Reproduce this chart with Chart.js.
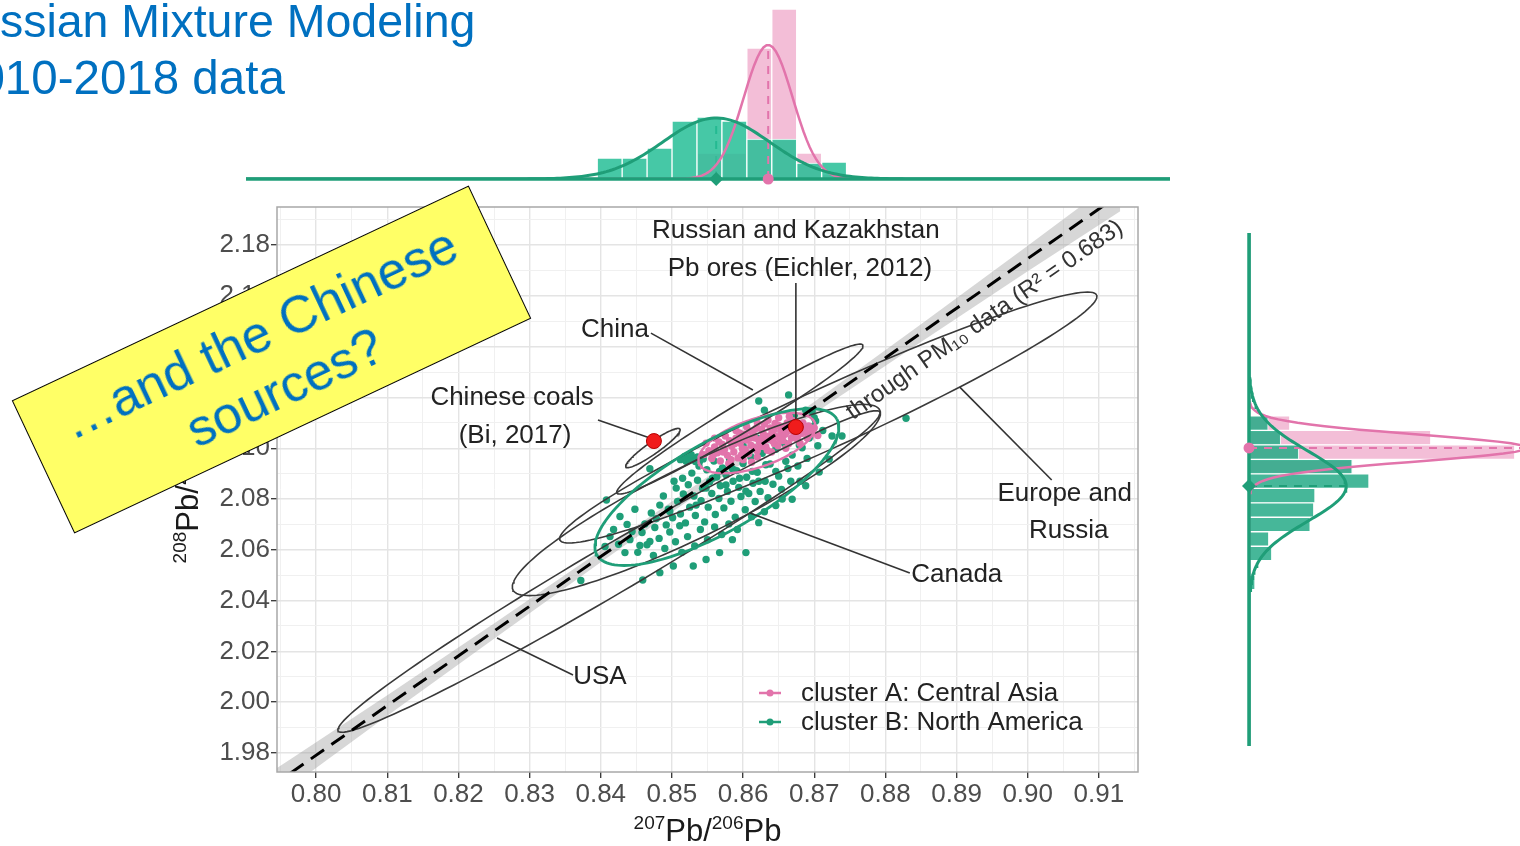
<!DOCTYPE html>
<html>
<head>
<meta charset="utf-8">
<title>Pb isotope clusters</title>
<script src="https://cdn.jsdelivr.net/npm/chart.js@4.4.1/dist/chart.umd.min.js"></script>
<style>
  html, body { margin: 0; padding: 0; background: #fff; }
  body { position: relative; width: 1520px; height: 846px; overflow: hidden; font-family: "Liberation Sans", Arial, sans-serif; }
  canvas { position: absolute; }
  #topChart { left: 0; top: 0; }
  #mainChart { left: 150px; top: 190px; }
  #sideChart { left: 1240px; top: 223px; }
  .heading { position: absolute; color: #0070c0; font-size: 46.5px; line-height: 1; white-space: nowrap; }
  #note { position: absolute; left: 19px; top: 286px; width: 505px; height: 147px; box-sizing: border-box;
    background: #ffff66; border: 1.5px solid #000; transform: rotate(-25.2deg);
    display: flex; align-items: center; justify-content: center; text-align: center;
    color: #0070c0; font-size: 52px; line-height: 60px; }
</style>
</head>
<body>
<canvas id="topChart" width="1520" height="190"></canvas>
<canvas id="mainChart" width="1000" height="656"></canvas>
<canvas id="sideChart" width="280" height="533"></canvas>
<div class="heading" style="left:-88px; top:-2px;">Gaussian Mixture Modeling</div>
<div class="heading" style="left:-48px; top:54px; font-size:47.5px;">2010-2018 data</div>
<div id="note">…and the Chinese<br>sources?</div>
<script>
Chart.defaults.font.family = '"Liberation Sans", Arial, sans-serif';
Chart.defaults.animation = false;
Chart.defaults.events = [];
Chart.defaults.plugins.legend.display = false;
Chart.defaults.plugins.tooltip.enabled = false;

const GREEN = '#1f9e78';
const PINK = '#e274ab';
const FONT = '"Liberation Sans", Arial, sans-serif';

// axes
const xMajor = [0.80, 0.81, 0.82, 0.83, 0.84, 0.85, 0.86, 0.87, 0.88, 0.89, 0.90, 0.91];
const yMajor = [1.98, 2.00, 2.02, 2.04, 2.06, 2.08, 2.10, 2.12, 2.14, 2.16, 2.18];
const xLimits = [0.7945, 0.9155];
const yLimits = [1.9725, 2.195];
// axis titles as [superscript, text] pieces
const xTitle = [['207', 'Pb/'], ['206', 'Pb']];
const yTitle = [['208', 'Pb/'], ['204', 'Pb']];

// PM10 samples, cluster B (North America)
const greenPts = [
  [0.8408,2.0796],[0.8413,2.0652],[0.8406,2.0613],[0.8427,2.0731],[0.8444,2.0672],[0.8434,2.0589],[0.8455,2.0617],[0.8469,2.0919],
  [0.8469,2.0633],[0.8478,2.0723],[0.8483,2.0776],[0.8497,2.0751],[0.8506,2.0843],[0.8515,2.0882],[0.8520,2.0949],[0.8530,2.0961],
  [0.8539,2.0949],[0.8511,2.0695],[0.8534,2.0776],[0.8548,2.0843],[0.8557,2.0882],[0.8567,2.0909],[0.8576,2.0855],[0.8585,2.0919],
  [0.8595,2.0882],[0.8604,2.0831],[0.8613,2.0909],[0.8622,2.0870],[0.8632,2.0935],[0.8646,2.0909],[0.8660,2.0949],[0.8669,2.0973],
  [0.8679,2.1013],[0.8693,2.1040],[0.8702,2.1107],[0.8697,2.1146],[0.8622,2.1186],[0.8664,2.1210],[0.8604,2.0589],[0.8585,2.0640],
  [0.8567,2.0589],[0.8548,2.0562],[0.8530,2.0536],[0.8502,2.0536],[0.8483,2.0510],[0.8459,2.0481],[0.8622,2.0707],[0.8646,2.0774],
  [0.8669,2.0799],[0.8688,2.0852],[0.8707,2.0906],[0.8721,2.0957],[0.8725,2.1048],[0.8739,2.1048],[0.8829,2.1118],[0.8372,2.0479],
  [0.8462,2.0702],[0.8471,2.0745],[0.8476,2.0688],[0.8488,2.0812],[0.8492,2.0698],[0.8495,2.0760],[0.8501,2.0726],[0.8503,2.0870],
  [0.8508,2.0790],[0.8512,2.0741],[0.8516,2.0820],[0.8519,2.0706],[0.8523,2.0856],[0.8525,2.0768],[0.8528,2.0902],[0.8531,2.0812],
  [0.8533,2.0735],[0.8536,2.0874],[0.8538,2.0930],[0.8541,2.0793],[0.8543,2.0842],[0.8546,2.0710],[0.8549,2.0915],[0.8551,2.0768],
  [0.8553,2.0868],[0.8556,2.0822],[0.8559,2.0950],[0.8561,2.0739],[0.8563,2.0887],[0.8566,2.0802],[0.8568,2.0852],[0.8571,2.0922],
  [0.8573,2.0765],[0.8576,2.0896],[0.8578,2.0830],[0.8581,2.0956],[0.8583,2.0791],[0.8586,2.0870],[0.8589,2.0728],[0.8591,2.0912],
  [0.8594,2.0846],[0.8597,2.0810],[0.8600,2.0940],[0.8603,2.0758],[0.8605,2.0886],[0.8608,2.0822],[0.8611,2.0966],[0.8614,2.0862],
  [0.8617,2.0790],[0.8620,2.0905],[0.8624,2.0830],[0.8627,2.0980],[0.8631,2.0870],[0.8635,2.0805],[0.8638,2.0938],[0.8642,2.0858],
  [0.8646,2.0996],[0.8650,2.0890],[0.8654,2.0838],[0.8658,2.1020],[0.8663,2.0920],[0.8667,2.0870],[0.8672,2.1060],[0.8677,2.0930],
  [0.8683,2.1002],[0.8690,2.0960],[0.8698,2.1085],[0.8705,2.1010],[0.8712,2.1070],
  [0.8418,2.0680],[0.8425,2.0622],[0.8437,2.0700],[0.8441,2.0640],[0.8448,2.0760],[0.8452,2.0590],[0.8458,2.0668],[0.8465,2.0620],
  [0.8474,2.0578],[0.8482,2.0645],[0.8490,2.0605],[0.8497,2.0670],[0.8505,2.0632],[0.8514,2.0590],[0.8522,2.0652],[0.8532,2.0615],
  [0.8540,2.0680],[0.8550,2.0640],[0.8560,2.0690],[0.8570,2.0660],[0.8580,2.0702],[0.8592,2.0680],[0.8612,2.0730],[0.8630,2.0750],
  [0.8655,2.0800],[0.8680,2.0870],
  [0.8512,2.0955],[0.8518,2.0968],[0.8524,2.0958],[0.8527,2.0975],[0.8533,2.0948],[0.8536,2.0966],[0.8544,2.0958],
  [0.8640,2.1050],[0.8655,2.1075],[0.8620,2.1040],[0.8600,2.1010],[0.8700,2.1120],[0.8688,2.1150],[0.8672,2.1130],[0.8630,2.1150]
];

// PM10 samples, cluster A (Central Asia)
const pinkPts = [
  [0.8545,2.0975],[0.8552,2.0990],[0.8556,2.0960],[0.8560,2.1005],[0.8564,2.0982],[0.8568,2.0950],[0.8571,2.1015],[0.8574,2.0995],
  [0.8578,2.0972],[0.8581,2.1030],[0.8584,2.1008],[0.8587,2.0985],[0.8590,2.1040],[0.8593,2.0962],[0.8596,2.1020],[0.8599,2.0998],
  [0.8602,2.1055],[0.8605,2.1032],[0.8608,2.0978],[0.8611,2.1012],[0.8614,2.1060],[0.8617,2.1040],[0.8620,2.0990],[0.8623,2.1025],
  [0.8626,2.1075],[0.8629,2.1050],[0.8632,2.1005],[0.8635,2.1035],[0.8638,2.1080],[0.8641,2.1060],[0.8644,2.1018],[0.8647,2.1045],
  [0.8650,2.1090],[0.8653,2.1068],[0.8656,2.1030],[0.8659,2.1055],[0.8662,2.1100],[0.8665,2.1075],[0.8668,2.1040],[0.8671,2.1062],
  [0.8674,2.1090],[0.8677,2.1050],[0.8680,2.1078],[0.8684,2.1100],[0.8688,2.1065],[0.8692,2.1088],[0.8697,2.1070],[0.8560,2.1040],
  [0.8575,2.1048],[0.8590,2.1070],[0.8605,2.1085],[0.8620,2.1100],[0.8635,2.1110],[0.8650,2.1120],[0.8665,2.1125],[0.8580,2.0940],
  [0.8600,2.0955],[0.8620,2.0965],[0.8640,2.0985],[0.8660,2.1000],[0.8680,2.1020],[0.8548,2.1020],[0.8612,2.0945],[0.8630,2.1095],
  [0.8645,2.1098],[0.8595,2.1060],[0.8625,2.1008],[0.8655,2.1048],[0.8690,2.1040],[0.8705,2.1050],
  [0.8558,2.0972],[0.8566,2.1025],[0.8583,2.0955],[0.8598,2.1045],[0.8609,2.1068],[0.8616,2.1003],[0.8628,2.1062],[0.8634,2.0992],
  [0.8643,2.1072],[0.8649,2.1010],[0.8658,2.1085],[0.8664,2.1018],[0.8670,2.1108],[0.8676,2.1035],[0.8682,2.1058],[0.8686,2.1082],
  [0.8694,2.1055],[0.8700,2.1080],[0.8572,2.0985],[0.8588,2.1018],[0.8603,2.0995],[0.8618,2.1078],[0.8637,2.1048],[0.8652,2.1035],
  [0.8667,2.1088],[0.8598,2.0975],[0.8610,2.1040],[0.8626,2.1038],[0.8642,2.1028],[0.8661,2.1062]
];

// ore reference values (Chinese coals, Russian/Kazakh ores)
const orePts = [[0.84747, 2.10283], [0.86742, 2.10835]];

// source fields: centre, half major axis, half minor axis (data units)
const fieldCentre = [[0.87198,2.11209],[0.85344,2.07961],[0.84115,2.05146],[0.85955,2.11150],[0.84733,2.10008]];
const fieldMajor  = [[0.037711,0.048228],[0.025772,0.035433],[0.038062,0.062795],[0.017275,0.029134],[0.003792,0.007480]];
const fieldMinor  = [[0.001749,-0.010745],[0.002227,-0.012724],[0.001710,-0.008142],[0.001014,-0.004724],[0.000486,-0.001933]];

// 95% ellipses of the two clusters: green, pink
const clusterCentre = [[0.85632,2.08472],[0.86194,2.10205]];
const clusterMajor  = [[0.016854,0.026772],[0.008146,0.007874]];
const clusterMinor  = [[0.003117,-0.015413],[0.001096,-0.008937]];

// regression through PM10 data with its confidence band
const fitLine = [[0.7935,1.9664],[0.913,2.2001]];
const bandX  = [0.7935, 0.7966, 0.81, 0.825, 0.84, 0.856, 0.87, 0.885, 0.90, 0.913];
const bandLo = [1.9606, 1.9671, 1.9947, 2.0250, 2.0551, 2.0866, 2.1137, 2.1418, 2.1697, 2.1933];
const bandHi = [1.9722, 1.9779, 2.0027, 2.0310, 2.0597, 2.0906, 2.1183, 2.1488, 2.1797, 2.2069];

// annotations
const noteText = ['Russian and Kazakhstan', 'Pb ores (Eichler, 2012)', 'China', 'Chinese coals', '(Bi, 2017)',
                  'Europe and', 'Russia', 'Canada', 'USA'];
const noteX = [0.86742, 0.86798, 0.84199, 0.82753, 0.82795, 0.90520, 0.90576, 0.89003, 0.83989];
const noteY = [2.18551, 2.17055, 2.14654, 2.11976, 2.10480, 2.08197, 2.06740, 2.05008, 2.00992];
const leaders = [
  [[0.86742,2.16504],[0.86742,2.10835]],
  [[0.84705,2.14535],[0.86138,2.12291]],
  [[0.83961,2.11110],[0.84691,2.10402]],
  [[0.89045,2.12409],[0.90337,2.08748]],
  [[0.86096,2.07449],[0.88343,2.05087]],
  [[0.82542,2.02528],[0.83610,2.01071]]
];
const fitLabel = 'through PM₁₀ data (R² = 0.683)';
const fitLabelAt = [0.89396, 2.15047];
const legendText = ['cluster A: Central Asia', 'cluster B: North America'];
const legendColor = [PINK, GREEN];

// marginal histograms: 207Pb/206Pb (top) and 208Pb/206Pb (right)
const topBins  = [0.84125, 0.84475, 0.84825, 0.85175, 0.85525, 0.85875, 0.86225, 0.86575, 0.86925, 0.87275];
const topGreen = [10.5, 10.5, 15.5, 29, 31, 29, 20, 20, 8, 8.5];
const topPink  = [0, 0, 0, 0, 13, 13, 65.5, 85, 13, 2.5];
const topMean = [0.8562, 0.8635];
const topSd   = [0.0075, 0.00344];
const topPeak = [30.5, 67];

const sideBins  = [2.10985, 2.10415, 2.09845, 2.09275, 2.08705, 2.08135, 2.07565, 2.06995, 2.06425, 2.05855, 2.05285, 2.04715];
const sideGreen = [3.2, 5.3, 8.3, 17.2, 20, 11, 10.8, 10.2, 3.3, 3.8, 0, 1];
const sidePink  = [6.8, 30.3, 44.3, 17.3, 0, 0, 0, 0, 0, 0, 0, 0];
const sideMean = [2.0851, 2.1001];
const sideSd   = [0.0138, 0.0053];
const sidePeak = [16.2, 46.3];

const toXY = arr => arr.map(p => ({ x: p[0], y: p[1] }));

function ellipse(c, a, b) {
  const pts = [];
  for (let k = 0; k <= 144; k++) {
    const t = k / 144 * 2 * Math.PI;
    pts.push({ x: c[0] + a[0] * Math.cos(t) + b[0] * Math.sin(t),
               y: c[1] + a[1] * Math.cos(t) + b[1] * Math.sin(t) });
  }
  return pts;
}

function normalCurve(mean, sd, peak, lo, hi, vertical) {
  const pts = [];
  for (let k = 0; k <= 300; k++) {
    const v = lo + (hi - lo) * k / 300;
    const d = peak * Math.exp(-0.5 * Math.pow((v - mean) / sd, 2));
    pts.push(vertical ? { x: d, y: v } : { x: v, y: d });
  }
  return pts;
}

function lineSet(data, color, width, order, extra) {
  return Object.assign({ type: 'scatter', data, showLine: true, pointRadius: 0, borderColor: color,
    borderWidth: width, order, fill: false, tension: 0 }, extra || {});
}

function gridTicks(majors, lo, hi) {
  const step = majors[1] - majors[0];
  const ticks = [];
  majors.forEach(v => ticks.push({ value: v, minor: false }));
  [majors[0] - step].concat(majors).forEach(v => {
    const m = +(v + step / 2).toFixed(4);
    if (m > lo && m < hi) ticks.push({ value: m, minor: true });
  });
  return ticks.sort((p, q) => p.value - q.value);
}

function axis(majors, limits, fit) {
  return {
    type: 'linear', min: limits[0], max: limits[1],
    afterBuildTicks: s => { s.ticks = gridTicks(majors, limits[0], limits[1]); },
    afterFit: fit,
    ticks: { autoSkip: false, maxRotation: 0, color: '#4d4d4d', font: { size: 26 }, padding: 1,
             callback: (v, i, ts) => ts[i].minor ? '' : v.toFixed(2) },
    grid: {
      color: c => c.tick && c.tick.minor ? '#f0f0f0' : '#e4e4e4',
      lineWidth: c => c.tick && c.tick.minor ? 1 : 1.4,
      tickColor: c => c.tick && c.tick.minor ? 'rgba(0,0,0,0)' : '#333',
      tickLength: 6, tickWidth: 1.3
    },
    border: { display: false }
  };
}

// writes an isotope ratio title with raised mass numbers, centred on (0,0) baseline
function drawIsotopeTitle(ctx, parts) {
  const big = '31px ' + FONT, small = '19px ' + FONT;
  let width = 0;
  parts.forEach(([sup, txt]) => {
    ctx.font = small; width += ctx.measureText(sup).width;
    ctx.font = big; width += ctx.measureText(txt).width;
  });
  let pos = -width / 2;
  ctx.textAlign = 'left';
  ctx.textBaseline = 'alphabetic';
  parts.forEach(([sup, txt]) => {
    ctx.font = small; ctx.fillText(sup, pos, -12); pos += ctx.measureText(sup).width;
    ctx.font = big; ctx.fillText(txt, pos, 0); pos += ctx.measureText(txt).width;
  });
}

// text, leader labels, legend, axis titles and panel frame
const decorations = {
  id: 'decorations',
  afterDatasetsDraw(chart) {
    const { ctx, chartArea: area, scales: { x, y } } = chart;
    ctx.save();
    ctx.fillStyle = '#222';
    ctx.font = '26px ' + FONT;
    ctx.textAlign = 'center';
    ctx.textBaseline = 'middle';
    noteText.forEach((t, i) => ctx.fillText(t, x.getPixelForValue(noteX[i]), y.getPixelForValue(noteY[i])));

    const x0 = x.getPixelForValue(fitLine[0][0]), y0 = y.getPixelForValue(fitLine[0][1]);
    const x1 = x.getPixelForValue(fitLine[1][0]), y1 = y.getPixelForValue(fitLine[1][1]);
    ctx.save();
    ctx.translate(x.getPixelForValue(fitLabelAt[0]), y.getPixelForValue(fitLabelAt[1]));
    ctx.rotate(Math.atan2(y1 - y0, x1 - x0));
    ctx.fillStyle = '#333';
    ctx.font = '24px ' + FONT;
    ctx.fillText(fitLabel, 0, 0);
    ctx.restore();

    ctx.textAlign = 'left';
    legendText.forEach((t, i) => {
      const ly = area.bottom - 79 + i * 29;
      ctx.strokeStyle = legendColor[i];
      ctx.fillStyle = legendColor[i];
      ctx.lineWidth = 2.5;
      ctx.beginPath();
      ctx.moveTo(area.left + 482, ly);
      ctx.lineTo(area.left + 504, ly);
      ctx.stroke();
      ctx.beginPath();
      ctx.arc(area.left + 493, ly, 3.5, 0, 2 * Math.PI);
      ctx.fill();
      ctx.fillStyle = '#222';
      ctx.fillText(t, area.left + 524, ly + 1);
    });

    ctx.fillStyle = '#1a1a1a';
    ctx.save();
    ctx.translate((area.left + area.right) / 2, area.bottom + 69);
    drawIsotopeTitle(ctx, xTitle);
    ctx.restore();
    ctx.save();
    ctx.translate(area.left - 79, (area.top + area.bottom) / 2);
    ctx.rotate(-Math.PI / 2);
    drawIsotopeTitle(ctx, yTitle);
    ctx.restore();

    ctx.strokeStyle = '#a8a8a8';
    ctx.lineWidth = 1.5;
    ctx.strokeRect(area.left, area.top, area.width, area.height);
    ctx.restore();
  }
};

const mainSets = [
  lineSet(bandX.map((v, i) => ({ x: v, y: bandLo[i] })), 'rgba(0,0,0,0)', 0, 20),
  lineSet(bandX.map((v, i) => ({ x: v, y: bandHi[i] })), 'rgba(0,0,0,0)', 0, 20,
          { fill: '-1', backgroundColor: 'rgba(150,150,150,0.38)' }),
  { type: 'scatter', data: toXY(greenPts), pointRadius: 3.7, pointBackgroundColor: GREEN, pointBorderWidth: 0, order: 12 },
  { type: 'scatter', data: toXY(pinkPts), pointRadius: 3.7, pointBackgroundColor: PINK, pointBorderWidth: 0, order: 11 }
];
fieldCentre.forEach((c, i) => mainSets.push(lineSet(ellipse(c, fieldMajor[i], fieldMinor[i]), '#3a3a3a', 1.6, 9)));
mainSets.push(lineSet(ellipse(clusterCentre[0], clusterMajor[0], clusterMinor[0]), GREEN, 2.8, 8));
mainSets.push(lineSet(ellipse(clusterCentre[1], clusterMajor[1], clusterMinor[1]), PINK, 2.4, 8));
mainSets.push(lineSet(toXY(fitLine), '#000', 3, 5, { borderDash: [16, 9] }));
leaders.forEach(l => mainSets.push(lineSet(toXY(l), '#333', 1.6, 4)));
mainSets.push({ type: 'scatter', data: toXY(orePts), pointRadius: 7.5, pointBackgroundColor: '#f01c1c',
                pointBorderColor: '#b80000', pointBorderWidth: 1, order: 1 });

new Chart(document.getElementById('mainChart'), {
  type: 'scatter',
  data: { datasets: mainSets },
  options: {
    responsive: false,
    layout: { autoPadding: false, padding: { left: 0, top: 17, right: 12, bottom: 0 } },
    scales: {
      x: axis(xMajor, xLimits, s => { s.height = 74; }),
      y: axis(yMajor, yLimits, s => { s.width = 127; })
    }
  },
  plugins: [decorations]
});

// top marginal
const topLimits = [0.7902, 0.9199];
const topBars = (vals, color, order) => ({
  type: 'bar', data: topBins.map((b, i) => ({ x: b, y: vals[i] })).filter(d => d.y > 0),
  grouped: false, barPercentage: 1, categoryPercentage: 1, backgroundColor: color,
  borderColor: '#fff', borderWidth: 1, borderSkipped: false, order
});
new Chart(document.getElementById('topChart'), {
  type: 'bar',
  data: { datasets: [
    lineSet([{ x: topMean[0], y: 0 }, { x: topMean[0], y: topPeak[0] }], GREEN, 2, 7, { borderDash: [8, 7] }),
    topBars(topPink, 'rgba(236,150,190,0.62)', 6),
    topBars(topGreen, 'rgba(38,190,150,0.85)', 5),
    lineSet(normalCurve(topMean[1], topSd[1], topPeak[1], topLimits[0], topLimits[1], false), PINK, 2.5, 3),
    lineSet(normalCurve(topMean[0], topSd[0], topPeak[0], topLimits[0], topLimits[1], false), GREEN, 3, 2),
    lineSet([{ x: topMean[1], y: 0 }, { x: topMean[1], y: topPeak[1] }], PINK, 2, 3, { borderDash: [8, 7] }),
    lineSet([{ x: topLimits[0], y: 0 }, { x: topLimits[1], y: 0 }], GREEN, 3.5, 1, { clip: false }),
    { type: 'scatter', data: [{ x: topMean[0], y: 0 }], pointStyle: 'rectRot', pointRadius: 7,
      pointBackgroundColor: GREEN, pointBorderWidth: 0, order: 0, clip: false },
    { type: 'scatter', data: [{ x: topMean[1], y: 0 }], pointRadius: 5.5,
      pointBackgroundColor: PINK, pointBorderWidth: 0, order: 0, clip: false }
  ] },
  options: {
    responsive: false,
    layout: { autoPadding: false, padding: { left: 246, right: 350, top: 0, bottom: 11 } },
    scales: {
      x: { type: 'linear', min: topLimits[0], max: topLimits[1], offset: false, display: false },
      y: { type: 'linear', min: 0, max: 89.5, offset: false, display: false }
    }
  }
});

// right marginal
const sideLimits = [1.98276, 2.18472];
const sideBars = (vals, color, order) => ({
  type: 'bar', indexAxis: 'y', data: sideBins.map((b, i) => ({ y: b, x: vals[i] })).filter(d => d.x > 0),
  grouped: false, barPercentage: 1, categoryPercentage: 1, backgroundColor: color,
  borderColor: '#fff', borderWidth: 1, borderSkipped: false, order
});
new Chart(document.getElementById('sideChart'), {
  type: 'bar',
  data: { datasets: [
    sideBars(sidePink, 'rgba(236,150,190,0.62)', 6),
    sideBars(sideGreen, 'rgba(38,170,135,0.85)', 5),
    lineSet(normalCurve(sideMean[1], sideSd[1], sidePeak[1], sideLimits[0], sideLimits[1], true), PINK, 2.5, 3),
    lineSet(normalCurve(sideMean[0], sideSd[0], sidePeak[0], sideLimits[0], sideLimits[1], true), GREEN, 3, 2),
    lineSet([{ x: 0, y: sideMean[1] }, { x: sidePeak[1], y: sideMean[1] }], PINK, 2, 3, { borderDash: [8, 7] }),
    lineSet([{ x: 0, y: sideMean[0] }, { x: sidePeak[0], y: sideMean[0] }], GREEN, 2, 3, { borderDash: [8, 7] }),
    lineSet([{ x: 0, y: sideLimits[0] }, { x: 0, y: sideLimits[1] }], GREEN, 3.5, 1, { clip: false }),
    { type: 'scatter', data: [{ x: 0, y: sideMean[0] }], pointStyle: 'rectRot', pointRadius: 7,
      pointBackgroundColor: GREEN, pointBorderWidth: 0, order: 0, clip: false },
    { type: 'scatter', data: [{ x: 0, y: sideMean[1] }], pointRadius: 5.5,
      pointBackgroundColor: PINK, pointBorderWidth: 0, order: 0, clip: false }
  ] },
  options: {
    responsive: false,
    layout: { autoPadding: false, padding: { left: 9, right: 0, top: 10, bottom: 10 } },
    scales: {
      x: { type: 'linear', min: 0, max: 45.17, offset: false, display: false },
      y: { type: 'linear', min: sideLimits[0], max: sideLimits[1], offset: false, display: false }
    }
  }
});
</script>
</body>
</html>
